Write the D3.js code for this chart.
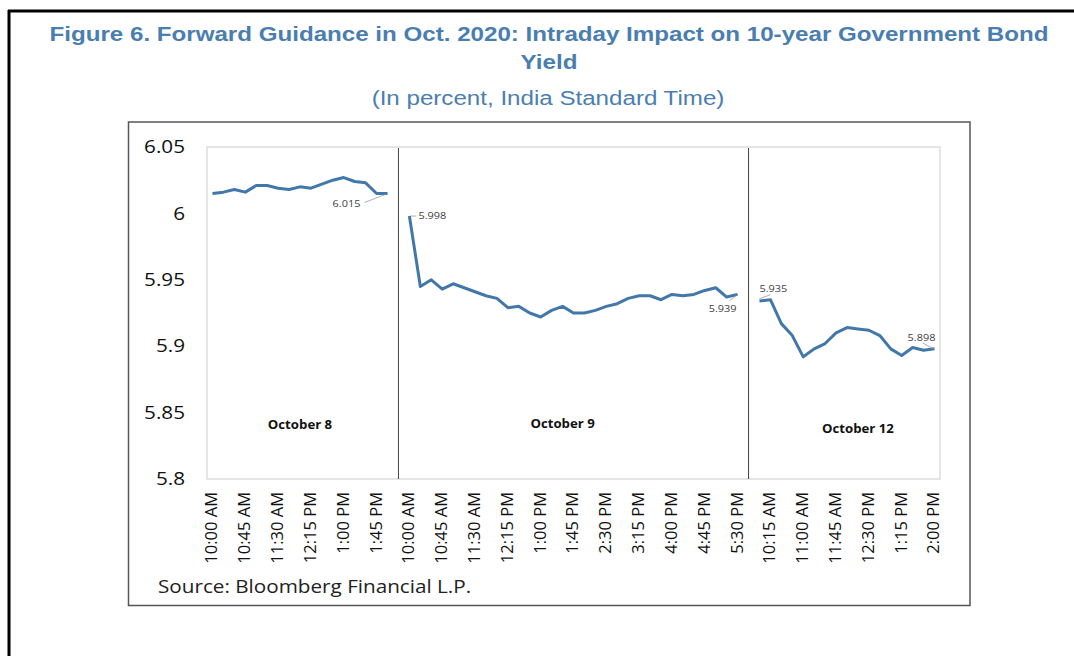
<!DOCTYPE html>
<html>
<head>
<meta charset="utf-8">
<script src="https://cdn.jsdelivr.net/npm/d3@7"></script>
<style>
  body { margin: 0; background: #fff; }
  #stage { width: 1074px; height: 656px; }
</style>
</head>
<body>
<div id="stage"></div>
<script>
// time slots for each trading day (15 minute steps)
var oct8Times = ["10:00 AM", "10:15 AM", "10:30 AM", "10:45 AM", "11:00 AM", "11:15 AM", "11:30 AM", "11:45 AM",
  "12:00 PM", "12:15 PM", "12:30 PM", "12:45 PM", "1:00 PM", "1:15 PM", "1:30 PM", "1:45 PM", "2:00 PM", "2:15 PM"];
var oct9Times = ["10:00 AM", "10:15 AM", "10:30 AM", "10:45 AM", "11:00 AM", "11:15 AM", "11:30 AM", "11:45 AM",
  "12:00 PM", "12:15 PM", "12:30 PM", "12:45 PM", "1:00 PM", "1:15 PM", "1:30 PM", "1:45 PM",
  "2:00 PM", "2:15 PM", "2:30 PM", "2:45 PM", "3:00 PM", "3:15 PM", "3:30 PM", "3:45 PM",
  "4:00 PM", "4:15 PM", "4:30 PM", "4:45 PM", "5:00 PM", "5:15 PM", "5:30 PM", "5:45 PM"];
var oct12Times = ["10:00 AM", "10:15 AM", "10:30 AM", "10:45 AM", "11:00 AM", "11:15 AM", "11:30 AM", "11:45 AM",
  "12:00 PM", "12:15 PM", "12:30 PM", "12:45 PM", "1:00 PM", "1:15 PM", "1:30 PM", "1:45 PM", "2:00 PM"];

// 10-year yield, percent (null = no quote)
var oct8Yield = [6.015, 6.016, 6.018, 6.016, 6.021, 6.021, 6.019, 6.018, 6.020, 6.019,
  6.022, 6.025, 6.027, 6.024, 6.023, 6.015, 6.015, null];
var oct9Yield = [5.998, 5.945, 5.950, 5.943, 5.947, 5.944, 5.941, 5.938, 5.936, 5.929,
  5.930, 5.925, 5.922, 5.927, 5.930, 5.925, 5.925, 5.927, 5.930, 5.932,
  5.936, 5.938, 5.938, 5.935, 5.939, 5.938, 5.939, 5.942, 5.944, 5.937, 5.939, null];
var oct12Yield = [5.934, 5.935, 5.917, 5.908, 5.892, 5.898, 5.902, 5.910, 5.914, 5.913,
  5.912, 5.908, 5.898, 5.893, 5.899, 5.897, 5.898];

var dayNames = ["October 8", "October 9", "October 12"];
// labelled points: [day index, slot index, text]
var pointLabels = [[0, 16, "6.015"], [1, 0, "5.998"], [1, 30, "5.939"], [2, 1, "5.935"], [2, 16, "5.898"]];
var yTicks = [5.8, 5.85, 5.9, 5.95, 6, 6.05];

var blue = "#4277aa";
var titleBlue = "#4a7eb0";
var sx = 1.15; // the figure text is a bit wide

build_scene();

// text drawn at (x,y) and widened horizontally
function add_text(parent, x, y, str, anchor) {
  return parent.append("text")
    .attr("transform", "translate(" + x + "," + y + ") scale(" + sx + ",1)")
    .attr("text-anchor", anchor || "start")
    .text(str);
}

function build_scene() {
  var svg = d3.select("#stage").append("svg")
    .attr("width", 1074).attr("height", 656)
    .style("font-family", "'Open Sans', sans-serif");

  // page frame (top and left rules)
  svg.append("line").attr("x1", 8).attr("x2", 1074).attr("y1", 11).attr("y2", 11)
    .attr("stroke", "#000").attr("stroke-width", 3);
  svg.append("line").attr("x1", 9).attr("x2", 9).attr("y1", 10).attr("y2", 656)
    .attr("stroke", "#000").attr("stroke-width", 3);

  // titles
  var tf = "'Liberation Sans', Arial, sans-serif";
  add_text(svg, 549, 41, "Figure 6. Forward Guidance in Oct. 2020: Intraday Impact on 10-year Government Bond", "middle")
    .style("font-family", tf).style("font-weight", "bold").style("font-size", "21px").attr("fill", titleBlue);
  add_text(svg, 549, 69, "Yield", "middle")
    .style("font-family", tf).style("font-weight", "bold").style("font-size", "21px").attr("fill", titleBlue);
  add_text(svg, 548, 105, "(In percent, India Standard Time)", "middle")
    .style("font-family", tf).style("font-size", "21px").attr("fill", titleBlue);

  // chart box
  svg.append("rect").attr("x", 128.5).attr("y", 122).attr("width", 841.5).attr("height", 483.5)
    .attr("fill", "#fff").attr("stroke", "#555").attr("stroke-width", 1.5);

  var plot = { left: 207, top: 147, right: 940, bottom: 479 };

  // categories: one per 15 min slot over the three days
  var days = [
    { name: dayNames[0], times: oct8Times, vals: oct8Yield },
    { name: dayNames[1], times: oct9Times, vals: oct9Yield },
    { name: dayNames[2], times: oct12Times, vals: oct12Yield }
  ];
  var cats = [];
  days.forEach(function(d, di) {
    d.keys = d.times.map(function(t) { return di + "|" + t; });
    cats = cats.concat(d.keys);
  });

  var x = d3.scaleBand().domain(cats).range([plot.left, plot.right]);
  var cx = function(k) { return x(k) + x.bandwidth() / 2; };
  var y = d3.scaleLinear().domain([5.8, 6.05]).range([plot.bottom, plot.top]);

  // plot area border
  svg.append("rect").attr("x", plot.left).attr("y", plot.top)
    .attr("width", plot.right - plot.left).attr("height", plot.bottom - plot.top)
    .attr("fill", "none").attr("stroke", "#d4d4d4").attr("stroke-width", 1.2);

  // y axis labels
  var yAxis = svg.append("g")
    .attr("transform", "translate(" + (plot.left - 22) + ",0)")
    .call(d3.axisLeft(y).tickValues(yTicks).tickSize(0).tickPadding(0).tickFormat(function(d) { return String(d); }));
  yAxis.select(".domain").remove();
  yAxis.selectAll("text")
    .attr("transform", "scale(" + sx + ",1)")
    .style("font-family", "'Open Sans', sans-serif")
    .style("font-size", "18px").attr("fill", "#111");

  // x axis labels, every third slot
  var xAxis = svg.append("g")
    .attr("transform", "translate(0," + plot.bottom + ")")
    .call(d3.axisBottom(x).tickValues(cats.filter(function(d, i) { return i % 3 === 0; }))
      .tickSize(0).tickFormat(function(d) { return d.split("|")[1]; }));
  xAxis.select(".domain").remove();
  xAxis.selectAll("text")
    .attr("transform", "rotate(-90)")
    .attr("text-anchor", "end")
    .attr("x", -13).attr("y", -1).attr("dy", "0.36em")
    .style("font-family", "'Open Sans', sans-serif")
    .style("font-size", "16.5px").attr("fill", "#111");

  // day separators, midway between the last quote of a day and the next day's first
  var lastKey = function(d) {
    var k = null;
    d.vals.forEach(function(v, i) { if (v !== null) k = d.keys[i]; });
    return k;
  };
  for (var i = 0; i < days.length - 1; i++) {
    var sepX = (cx(lastKey(days[i])) + cx(days[i + 1].keys[0])) / 2;
    svg.append("line").attr("x1", sepX).attr("x2", sepX)
      .attr("y1", plot.top + 1).attr("y2", plot.bottom)
      .attr("stroke", "#444").attr("stroke-width", 1);
  }

  // day names
  var nameAt = [[0, 8, 5.8407], [1, 14, 5.8412], [2, 9, 5.8377]];
  nameAt.forEach(function(n) {
    add_text(svg, cx(days[n[0]].keys[n[1]]), y(n[2]) + 4, days[n[0]].name, "middle")
      .style("font-weight", "bold").style("font-size", "11.5px").attr("fill", "#111");
  });

  // yield lines
  var line = d3.line()
    .defined(function(d) { return d.v !== null; })
    .x(function(d) { return cx(d.k); })
    .y(function(d) { return y(d.v); });
  days.forEach(function(d) {
    var pts = d.keys.map(function(k, i) { return { k: k, v: d.vals[i] }; });
    svg.append("path").datum(pts).attr("d", line)
      .attr("fill", "none").attr("stroke", blue).attr("stroke-width", 3)
      .attr("stroke-linejoin", "round");
  });

  // data labels with leader lines (offsets in px from the point)
  var offs = {
    "6.015": { tx: -41, ty: 10, a: "middle", l: [-23, 9, -2, 1] },
    "5.998": { tx: 9, ty: 0, a: "start", l: [1, 0, 7, 0] },
    "5.939": { tx: -15, ty: 14, a: "middle", l: [-8, 6, -1, 1] },
    "5.935": { tx: 3, ty: -11, a: "middle", l: [-11, -1, 0, -5] },
    "5.898": { tx: -13, ty: -11, a: "middle", l: [-12, -6, -1, 0] }
  };
  pointLabels.forEach(function(p) {
    var d = days[p[0]];
    var px = cx(d.keys[p[1]]), py = y(d.vals[p[1]]);
    var o = offs[p[2]];
    svg.append("line")
      .attr("x1", px + o.l[0]).attr("y1", py + o.l[1])
      .attr("x2", px + o.l[2]).attr("y2", py + o.l[3])
      .attr("stroke", "#9a9a9a").attr("stroke-width", 0.8);
    add_text(svg, px + o.tx, py + o.ty + 3.3, p[2], o.a)
      .style("font-size", "9.5px").attr("fill", "#404040");
  });

  // source
  add_text(svg, 158, 593, "Source: Bloomberg Financial L.P.")
    .style("font-size", "18px").attr("fill", "#222");
}
</script>
</body>
</html>
